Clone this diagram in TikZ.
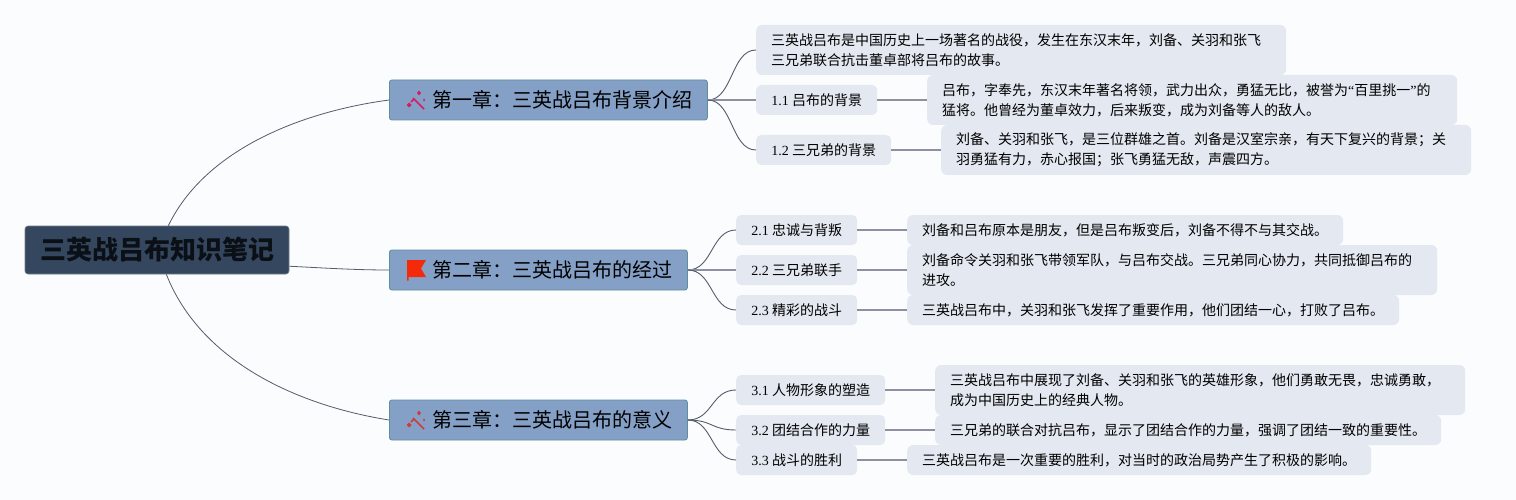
\documentclass[tikz,border=0pt]{standalone}
\usepackage{fontspec}
\usepackage{xcolor}
\usepackage{tikz}
\setmainfont{Noto Sans CJK SC}
\newfontfamily\latinfont{Liberation Serif}
\definecolor{pagebg}{HTML}{FBFCFD}
\definecolor{rootfill}{HTML}{34475E}
\definecolor{rootink}{HTML}{0B0F16}
\definecolor{chapfill}{HTML}{84A0C6}
\definecolor{chapline}{HTML}{5F8F9B}
\definecolor{leaffill}{HTML}{E3E8F1}
\definecolor{curveline}{HTML}{555B6C}
\definecolor{barline}{HTML}{8C90A2}
\definecolor{wandpink}{HTML}{D81B60}
\definecolor{flagred}{HTML}{F52A0A}
\definecolor{wandred}{HTML}{D03A3A}
\tikzstyle{rootnode}=[rectangle, rounded corners=3pt, draw=rootfill!70!white, line width=0.6pt,
  fill=rootfill, text=rootink, minimum width=264pt, minimum height=48pt, inner sep=0pt,
  font=\fontsize{26}{30}\selectfont\bfseries]
\tikzstyle{chapter}=[rectangle, rounded corners=2.5pt, draw=chapline, line width=0.8pt,
  fill=chapfill, anchor=west, align=right, minimum height=40pt, inner xsep=15pt, inner ysep=0pt,
  font=\fontsize{20}{24}\selectfont]
\tikzstyle{topic}=[rectangle, rounded corners=5pt, fill=leaffill, anchor=west,
  minimum height=30pt, inner sep=0pt, font=\fontsize{14}{20}\selectfont]
\tikzstyle{detail}=[rectangle, rounded corners=6pt, fill=leaffill, anchor=west, align=left,
  minimum height=30pt, inner xsep=15pt, inner ysep=0pt, font=\fontsize{14}{20}\selectfont]
\tikzstyle{trunk}=[curveline, line width=0.8pt]
\tikzstyle{twig}=[curveline, line width=0.9pt]
\tikzstyle{bar}=[barline, line width=1.4pt]
% sparkle wand, given by its colour and by the y of its box centre
\newcommand{\wandicon}[2]{
  \draw[#1, line width=1.5pt] (413,#2-2) -- (424,#2+9);
  \draw[#1, line width=1.5pt] (411,#2+2) -- (414,#2-1);
  \fill[#1] (419,#2-9.5) -- (421,#2-7) -- (419,#2-4.5) -- (417,#2-7) -- cycle;
  \fill[#1] (424,#2-1.5) -- (425,#2) -- (424,#2+1.5) -- (423,#2) -- cycle;
  \fill[#1] (409,#2+2.5) -- (411.5,#2+5) -- (409,#2+7.5) -- (406.5,#2+5) -- cycle;
}

\begin{document}
\begin{tikzpicture}[x=1pt,y=-1pt]

    \fill[pagebg] (0,0) rectangle (1516,500);
    \useasboundingbox (0,0) rectangle (1516,500);

    \node[rootnode] (root) at (157,250) {三英战吕布知识笔记};

    % Chapter 1
    \node[chapter, text width=288pt] (ch1) at (389,100) {第一章：三英战吕布背景介绍};
    \node[detail, text width=500pt, minimum height=50pt] (intro) at (756,50)
      {三英战吕布是中国历史上一场著名的战役，发生在东汉末年，刘备、关羽和张飞\\ 三兄弟联合抗击董卓部将吕布的故事。};
    \node[topic, minimum width=121pt] (t11) at (756,100) {{\latinfont 1.1} 吕布的背景};
    \node[topic, minimum width=135pt] (t12) at (756,150) {{\latinfont 1.2} 三兄弟的背景};
    \node[detail, text width=500pt, minimum height=50pt] (d11) at (927,100)
      {吕布，字奉先，东汉末年著名将领，武力出众，勇猛无比，被誉为{\latinfont “}百里挑一{\latinfont ”}的\\ 猛将。他曾经为董卓效力，后来叛变，成为刘备等人的敌人。};
    \node[detail, text width=500pt, minimum height=50pt] (d12) at (941,150)
      {刘备、关羽和张飞，是三位群雄之首。刘备是汉室宗亲，有天下复兴的背景；关\\ 羽勇猛有力，赤心报国；张飞勇猛无敌，声震四方。};

    % Chapter 2
    \node[chapter, text width=268pt] (ch2) at (389,270) {第二章：三英战吕布的经过};
    \node[topic, minimum width=121pt] (t21) at (736,230) {{\latinfont 2.1} 忠诚与背叛};
    \node[topic, minimum width=121pt] (t22) at (736,270) {{\latinfont 2.2} 三兄弟联手};
    \node[topic, minimum width=121pt] (t23) at (736,310) {{\latinfont 2.3} 精彩的战斗};
    \node[detail, text width=406pt] (d21) at (907,230)
      {刘备和吕布原本是朋友，但是吕布叛变后，刘备不得不与其交战。};
    \node[detail, text width=500pt, minimum height=50pt] (d22) at (907,270)
      {刘备命令关羽和张飞带领军队，与吕布交战。三兄弟同心协力，共同抵御吕布的\\ 进攻。};
    \node[detail, text width=462pt] (d23) at (907,310)
      {三英战吕布中，关羽和张飞发挥了重要作用，他们团结一心，打败了吕布。};

    % Chapter 3
    \node[chapter, text width=268pt] (ch3) at (389,420) {第三章：三英战吕布的意义};
    \node[topic, minimum width=149pt] (t31) at (736,390) {{\latinfont 3.1} 人物形象的塑造};
    \node[topic, minimum width=149pt] (t32) at (736,430) {{\latinfont 3.2} 团结合作的力量};
    \node[topic, minimum width=121pt] (t33) at (736,460) {{\latinfont 3.3} 战斗的胜利};
    \node[detail, text width=500pt, minimum height=50pt] (d31) at (935,390)
      {三英战吕布中展现了刘备、关羽和张飞的英雄形象，他们勇敢无畏，忠诚勇敢，\\ 成为中国历史上的经典人物。};
    \node[detail, text width=476pt] (d32) at (935,430)
      {三兄弟的联合对抗吕布，显示了团结合作的力量，强调了团结一致的重要性。};
    \node[detail, text width=434pt] (d33) at (907,460)
      {三英战吕布是一次重要的胜利，对当时的政治局势产生了积极的影响。};

    % Icons in the chapter boxes
    \wandicon{wandpink}{100}
    \fill[flagred] (407,260) -- (426,260) -- (421,268.5) -- (426,277) -- (408.5,277)
      -- (408.5,280.5) -- (407,280.5) -- cycle;
    \wandicon{wandred}{420}

    \draw[trunk] (root.65) .. controls (205,150) and (300,112) .. (ch1.west);
    \draw[trunk] (root.-7) .. controls (325,268) and (355,270) .. (ch2.west);
    \draw[trunk] (root.-69) .. controls (200,360) and (295,405) .. (ch3.west);

    \draw[twig] (ch1.east) .. controls +(25,0) and +(-25,0) .. (intro.west);
    \draw[bar] (ch1.east) -- (t11.west);
    \draw[twig] (ch1.east) .. controls +(25,0) and +(-25,0) .. (t12.west);
    \draw[bar] (t11.east) -- (d11.west);
    \draw[bar] (t12.east) -- (d12.west);

    \draw[twig] (ch2.east) .. controls +(25,0) and +(-25,0) .. (t21.west);
    \draw[bar] (ch2.east) -- (t22.west);
    \draw[twig] (ch2.east) .. controls +(25,0) and +(-25,0) .. (t23.west);
    \draw[bar] (t21.east) -- (d21.west);
    \draw[bar] (t22.east) -- (d22.west);
    \draw[bar] (t23.east) -- (d23.west);

    \draw[twig] (ch3.east) .. controls +(25,0) and +(-25,0) .. (t31.west);
    \draw[twig] (ch3.east) .. controls +(25,0) and +(-25,0) .. (t32.west);
    \draw[twig] (ch3.east) .. controls +(25,0) and +(-25,0) .. (t33.west);
    \draw[bar] (t31.east) -- (d31.west);
    \draw[bar] (t32.east) -- (d32.west);
    \draw[bar] (t33.east) -- (d33.west);

  \end{tikzpicture}
\end{document}
